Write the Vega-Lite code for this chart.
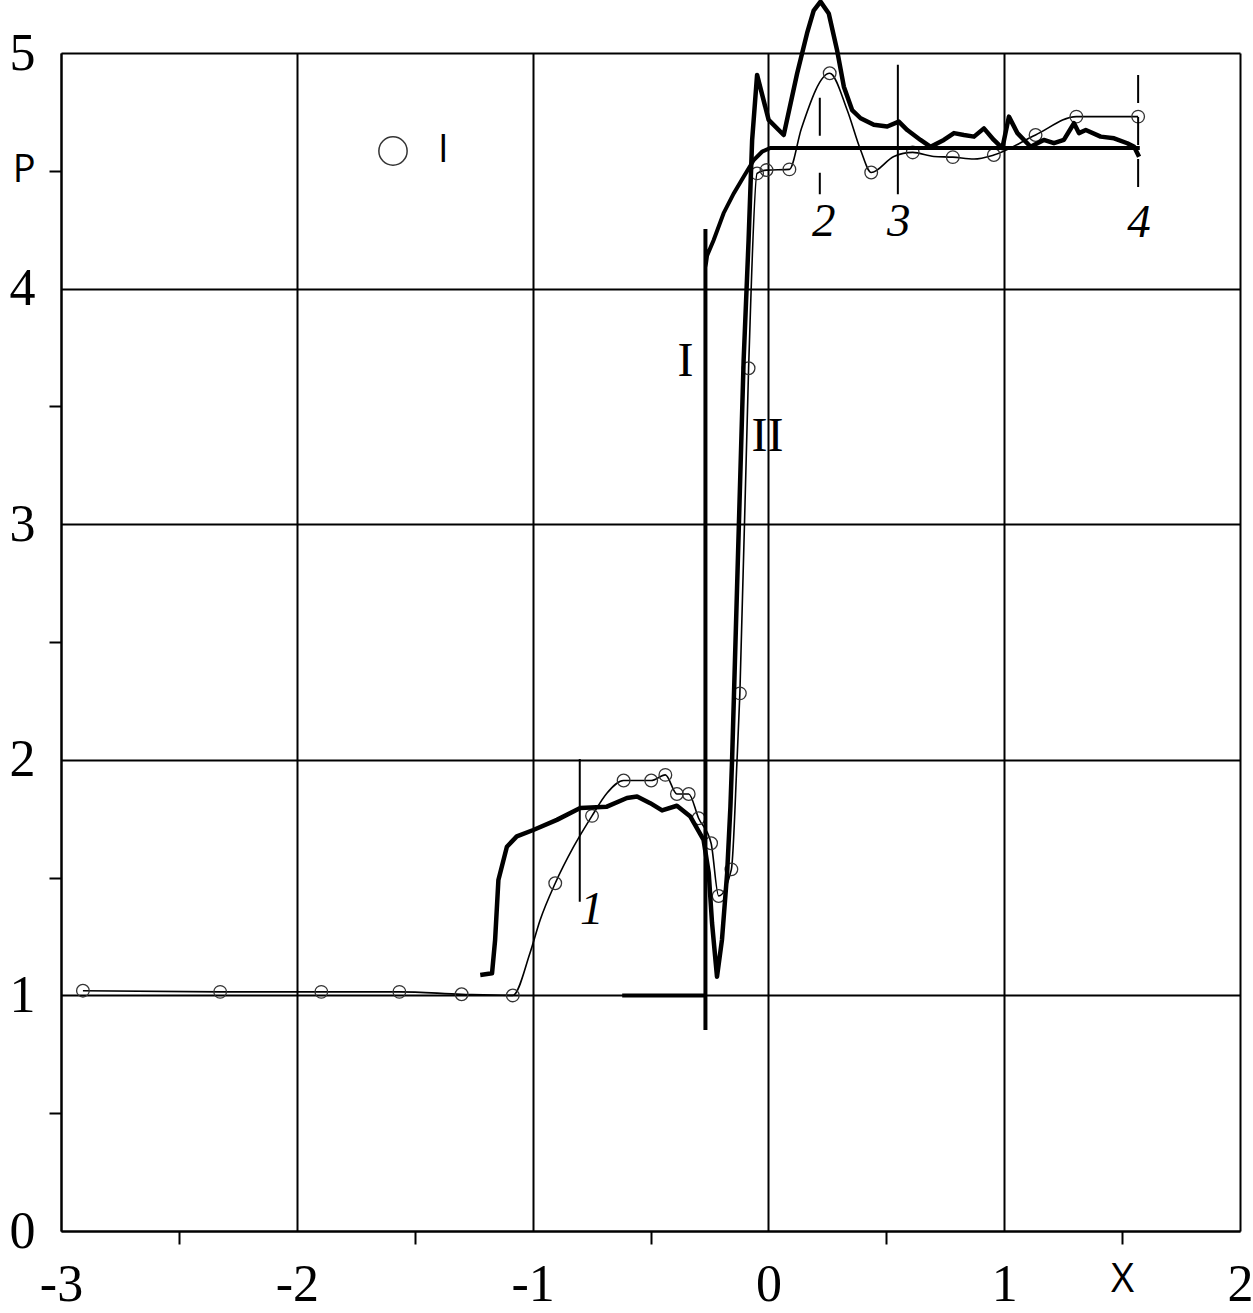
{
  "$schema": "https://vega.github.io/schema/vega-lite/v6.json",
  "width": 1179,
  "height": 1178,
  "autosize": {"type": "none"},
  "padding": {"left": 61, "top": 53, "right": 13, "bottom": 82},
  "background": "white",
  "config": {
    "view": {"stroke": null},
    "legend": {"orient": "none", "legendX": 313, "legendY": 79, "padding": 0}
  },
  "datasets": {
    "thickI": [
      {"i": 0, "x": -0.62, "p": 1.0},
      {"i": 1, "x": -0.267, "p": 1.0},
      {"i": 2, "x": -0.267, "p": 0.853},
      {"i": 3, "x": -0.267, "p": 4.253},
      {"i": 4, "x": -0.267, "p": 4.09},
      {"i": 5, "x": -0.26, "p": 4.14},
      {"i": 6, "x": -0.232, "p": 4.206},
      {"i": 7, "x": -0.19, "p": 4.32},
      {"i": 8, "x": -0.147, "p": 4.404},
      {"i": 9, "x": -0.105, "p": 4.475},
      {"i": 10, "x": -0.062, "p": 4.546},
      {"i": 11, "x": -0.027, "p": 4.581},
      {"i": 12, "x": 0.008, "p": 4.597},
      {"i": 13, "x": 1.575, "p": 4.597}
    ],
    "thickII": [
      {"x": -1.222, "p": 1.087},
      {"x": -1.172, "p": 1.094},
      {"x": -1.159, "p": 1.235},
      {"x": -1.145, "p": 1.49},
      {"x": -1.109, "p": 1.631},
      {"x": -1.067, "p": 1.675},
      {"x": -0.997, "p": 1.702},
      {"x": -0.897, "p": 1.745},
      {"x": -0.798, "p": 1.795},
      {"x": -0.685, "p": 1.801},
      {"x": -0.6, "p": 1.838},
      {"x": -0.557, "p": 1.844},
      {"x": -0.501, "p": 1.816},
      {"x": -0.451, "p": 1.785},
      {"x": -0.388, "p": 1.805},
      {"x": -0.331, "p": 1.759},
      {"x": -0.275, "p": 1.66},
      {"x": -0.253, "p": 1.519},
      {"x": -0.239, "p": 1.307},
      {"x": -0.218, "p": 1.079},
      {"x": -0.197, "p": 1.235},
      {"x": -0.175, "p": 1.519},
      {"x": -0.161, "p": 1.802},
      {"x": -0.154, "p": 2.0},
      {"x": -0.105, "p": 3.697},
      {"x": -0.084, "p": 4.206},
      {"x": -0.069, "p": 4.63},
      {"x": -0.048, "p": 4.907},
      {"x": 0.001, "p": 4.716},
      {"x": 0.065, "p": 4.652},
      {"x": 0.122, "p": 4.914},
      {"x": 0.164, "p": 5.084},
      {"x": 0.192, "p": 5.18},
      {"x": 0.221, "p": 5.218},
      {"x": 0.256, "p": 5.168},
      {"x": 0.291, "p": 5.013},
      {"x": 0.32, "p": 4.857},
      {"x": 0.355, "p": 4.758},
      {"x": 0.391, "p": 4.723},
      {"x": 0.447, "p": 4.695},
      {"x": 0.504, "p": 4.688},
      {"x": 0.553, "p": 4.709},
      {"x": 0.589, "p": 4.673},
      {"x": 0.645, "p": 4.631},
      {"x": 0.688, "p": 4.602},
      {"x": 0.744, "p": 4.631},
      {"x": 0.787, "p": 4.66},
      {"x": 0.829, "p": 4.652},
      {"x": 0.872, "p": 4.645},
      {"x": 0.914, "p": 4.68},
      {"x": 0.956, "p": 4.631},
      {"x": 0.992, "p": 4.596},
      {"x": 1.02, "p": 4.73},
      {"x": 1.056, "p": 4.66},
      {"x": 1.112, "p": 4.602},
      {"x": 1.168, "p": 4.631},
      {"x": 1.211, "p": 4.617},
      {"x": 1.253, "p": 4.631},
      {"x": 1.296, "p": 4.702},
      {"x": 1.317, "p": 4.66},
      {"x": 1.346, "p": 4.673},
      {"x": 1.409, "p": 4.645},
      {"x": 1.466, "p": 4.638},
      {"x": 1.522, "p": 4.617},
      {"x": 1.551, "p": 4.602},
      {"x": 1.572, "p": 4.56}
    ],
    "thin": [
      {"x": -2.907, "p": 1.02, "m": 1},
      {"x": -2.325, "p": 1.015, "m": 1},
      {"x": -1.896, "p": 1.015, "m": 1},
      {"x": -1.565, "p": 1.015, "m": 1},
      {"x": -1.301, "p": 1.005, "m": 1},
      {"x": -1.084, "p": 1.0, "m": 1},
      {"x": -1.011, "p": 1.18, "m": 0},
      {"x": -0.968, "p": 1.32, "m": 0},
      {"x": -0.904, "p": 1.476, "m": 1},
      {"x": -0.826, "p": 1.631, "m": 0},
      {"x": -0.748, "p": 1.762, "m": 1},
      {"x": -0.685, "p": 1.858, "m": 0},
      {"x": -0.614, "p": 1.912, "m": 1},
      {"x": -0.497, "p": 1.912, "m": 1},
      {"x": -0.437, "p": 1.936, "m": 1},
      {"x": -0.388, "p": 1.855, "m": 1},
      {"x": -0.338, "p": 1.855, "m": 1},
      {"x": -0.296, "p": 1.752, "m": 1},
      {"x": -0.243, "p": 1.646, "m": 1},
      {"x": -0.211, "p": 1.422, "m": 1},
      {"x": -0.157, "p": 1.535, "m": 1},
      {"x": -0.133, "p": 2.0, "m": 0},
      {"x": -0.121, "p": 2.282, "m": 1},
      {"x": -0.084, "p": 3.662, "m": 1},
      {"x": -0.048, "p": 4.489, "m": 1},
      {"x": -0.008, "p": 4.503, "m": 1},
      {"x": 0.089, "p": 4.506, "m": 1},
      {"x": 0.14, "p": 4.68, "m": 0},
      {"x": 0.26, "p": 4.914, "m": 1},
      {"x": 0.334, "p": 4.758, "m": 0},
      {"x": 0.391, "p": 4.588, "m": 0},
      {"x": 0.436, "p": 4.493, "m": 1},
      {"x": 0.532, "p": 4.561, "m": 0},
      {"x": 0.612, "p": 4.578, "m": 1},
      {"x": 0.702, "p": 4.561, "m": 0},
      {"x": 0.782, "p": 4.558, "m": 1},
      {"x": 0.872, "p": 4.55, "m": 0},
      {"x": 0.956, "p": 4.567, "m": 1},
      {"x": 1.133, "p": 4.652, "m": 1},
      {"x": 1.306, "p": 4.73, "m": 1},
      {"x": 1.568, "p": 4.73, "m": 1}
    ],
    "gauges": [
      {"gauge": "1", "x": -0.8, "p": 2.003, "p2": 1.398},
      {"gauge": "2", "x": 0.218, "p": 4.81, "p2": 4.4},
      {"gauge": "3", "x": 0.549, "p": 4.95, "p2": 4.4},
      {"gauge": "4", "x": 1.568, "p": 4.907, "p2": 4.397}
    ],
    "gaugeLabels": [
      {"text": "1", "x": -0.749, "p": 1.363},
      {"text": "2", "x": 0.235, "p": 4.284},
      {"text": "3", "x": 0.553, "p": 4.284},
      {"text": "4", "x": 1.572, "p": 4.277}
    ],
    "curveLabels": [
      {"text": "I", "x": -0.352, "p": 3.688},
      {"text": "II", "x": -0.004, "p": 3.368}
    ]
  },
  "encoding": {
    "x": {
      "field": "x",
      "type": "quantitative",
      "scale": {"domain": [-3, 2], "nice": false, "zero": false},
      "axis": {
        "title": null,
        "values": [-3, -2.5, -2, -1.5, -1, -0.5, 0, 0.5, 1, 1.5, 2],
        "labelExpr": "datum.value == 1.5 ? 'X' : (datum.value % 1 == 0 ? (datum.value < 0 ? '-' + abs(datum.value) : '' + datum.value) : '')",
        "labelFont": {"condition": {"test": "datum.value == 1.5", "value": "Open Sans"}, "value": "Liberation Serif"},
        "labelFontSize": {"condition": {"test": "datum.value == 1.5", "value": 40}, "value": 52},
        "labelColor": "black",
        "labelPadding": 15,
        "labelOverlap": false,
        "labelFlush": false,
        "labelBound": false,
        "tickSize": 13,
        "tickWidth": 2,
        "tickColor": "black",
        "tickOpacity": {"condition": {"test": "datum.value % 1 == 0", "value": 0}, "value": 1},
        "grid": true,
        "gridColor": "black",
        "gridWidth": 2,
        "gridOpacity": {"condition": {"test": "datum.value % 1 != 0", "value": 0}, "value": 1},
        "domainColor": "black",
        "domainWidth": 2
      }
    },
    "y": {
      "field": "p",
      "type": "quantitative",
      "scale": {"domain": [0, 5], "nice": false, "zero": false},
      "axis": {
        "title": null,
        "values": [0, 0.5, 1, 1.5, 2, 2.5, 3, 3.5, 4, 4.5, 5],
        "labelExpr": "datum.value == 4.5 ? 'P' : (datum.value % 1 == 0 ? '' + datum.value : '')",
        "labelFont": {"condition": {"test": "datum.value == 4.5", "value": "Open Sans"}, "value": "Liberation Serif"},
        "labelFontSize": {"condition": {"test": "datum.value == 4.5", "value": 38}, "value": 52},
        "labelColor": "black",
        "labelPadding": 14,
        "labelOverlap": false,
        "labelFlush": false,
        "labelBound": false,
        "tickSize": 12,
        "tickWidth": 2,
        "tickColor": "black",
        "tickOpacity": {"condition": {"test": "datum.value % 1 == 0", "value": 0}, "value": 1},
        "grid": true,
        "gridColor": "black",
        "gridWidth": 2,
        "gridOpacity": {"condition": {"test": "datum.value % 1 != 0", "value": 0}, "value": 1},
        "domainColor": "black",
        "domainWidth": 2
      }
    }
  },
  "layer": [
    {
      "data": {"name": "thin"},
      "mark": {"type": "line", "interpolate": "monotone", "color": "black", "strokeWidth": 1.6}
    },
    {
      "data": {"name": "thin"},
      "transform": [{"filter": "datum.m == 1"}],
      "mark": {"type": "point", "filled": false, "size": 160, "strokeWidth": 1.3, "color": "#333", "opacity": 1},
      "encoding": {
        "shape": {
          "datum": "I",
          "type": "nominal",
          "scale": {"range": ["circle"]},
          "legend": {
            "title": null,
            "symbolSize": 800,
            "symbolStrokeWidth": 1.5,
            "symbolStrokeColor": "#333",
            "symbolFillColor": "transparent",
            "labelFont": "Open Sans",
            "labelFontSize": 38,
            "labelColor": "black",
            "labelOffset": 26
          }
        }
      }
    },
    {
      "data": {"name": "thickII"},
      "mark": {"type": "line", "color": "black", "strokeWidth": 4.5, "strokeJoin": "round"}
    },
    {
      "data": {"name": "thickI"},
      "mark": {"type": "line", "color": "black", "strokeWidth": 4, "strokeJoin": "miter"},
      "encoding": {"order": {"field": "i", "type": "quantitative"}}
    },
    {
      "data": {"name": "gauges"},
      "mark": {"type": "rule", "color": "black", "strokeWidth": 2},
      "encoding": {
        "y2": {"field": "p2"},
        "strokeDash": {
          "field": "gauge",
          "type": "nominal",
          "scale": {"domain": ["1", "2", "3", "4"], "range": [[1, 0], [38, 37], [1, 0], [28, 14]]},
          "legend": null
        }
      }
    },
    {
      "data": {"name": "gaugeLabels"},
      "mark": {"type": "text", "font": "Liberation Serif", "fontStyle": "italic", "fontSize": 47, "color": "black", "align": "center", "baseline": "middle"},
      "encoding": {"text": {"field": "text"}}
    },
    {
      "data": {"name": "curveLabels"},
      "mark": {"type": "text", "font": "Liberation Serif", "fontSize": 48, "color": "black", "align": "center", "baseline": "middle"},
      "encoding": {"text": {"field": "text"}}
    }
  ]
}
